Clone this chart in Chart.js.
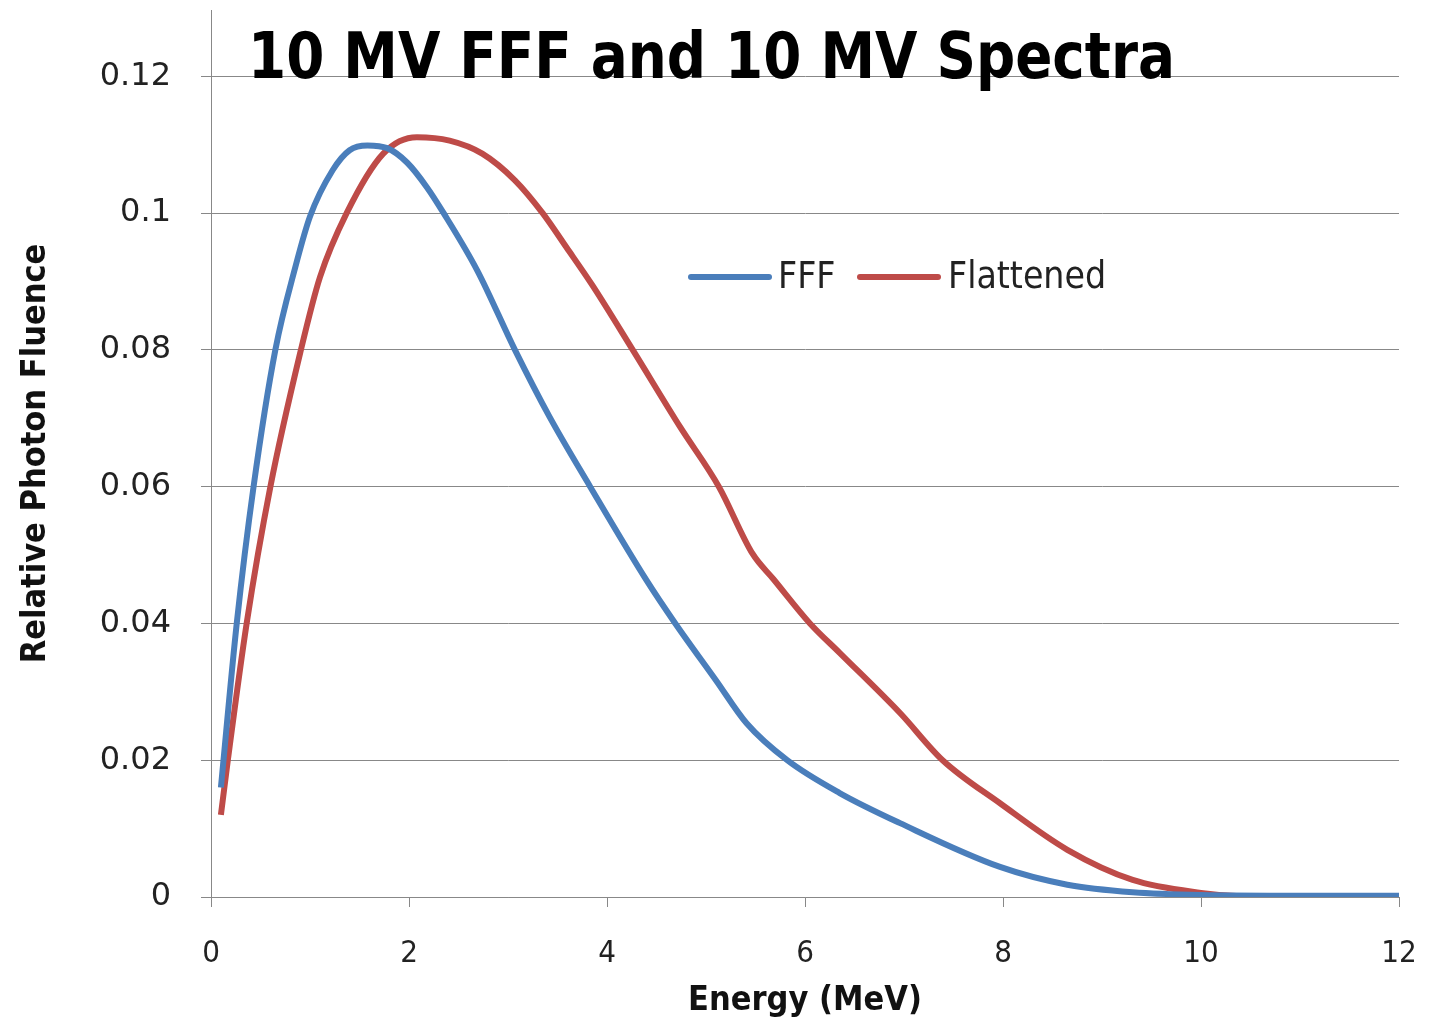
<!DOCTYPE html>
<html lang="en">
<head>
    <meta charset="UTF-8">
    <title>10 MV FFF and 10 MV Spectra</title>
    <script src="https://cdn.jsdelivr.net/npm/chart.js"></script>
    <style>
        html, body {
            margin: 0;
            padding: 0;
            background: #fff;
        }
        #wrap {
            position: relative;
            width: 1442px;
            height: 1023px;
        }
    </style>
</head>
<body>
    <div id="wrap">
        <canvas id="spectraChart" width="1442" height="1023"></canvas>
    </div>
    <script>
        const chartTitle = '10 MV FFF and 10 MV Spectra';
        const seriesNames = ['FFF', 'Flattened'];
        const seriesColors = ['#4a7ebb', '#be4b48'];

        // energy (MeV) / relative fluence
        const energyFFF = [0.1, 0.26, 0.43, 0.65, 0.85, 1.0, 1.23, 1.4, 1.58, 1.78, 1.98, 2.18, 2.35, 2.69, 3.07, 3.42, 3.83, 4.4, 4.69, 5.1, 5.41, 5.82, 6.35, 6.96, 7.97, 8.65, 9.31, 10.0, 11.0, 12.0];
        const fluenceFFF = [0.016, 0.04, 0.06, 0.08, 0.092, 0.0995, 0.1063, 0.1092, 0.1099, 0.1095, 0.1074, 0.1038, 0.1, 0.0916, 0.08, 0.0702, 0.06, 0.0463, 0.04, 0.0317, 0.0254, 0.02, 0.0152, 0.0108, 0.0044, 0.0018, 0.0007, 0.0003, 0.0002, 0.0002];

        const energyFlat = [0.1, 0.17, 0.36, 0.6, 0.9, 1.1, 1.37, 1.74, 2.08, 2.41, 2.74, 3.07, 3.35, 3.59, 3.85, 4.26, 4.74, 5.13, 5.47, 5.68, 6.05, 6.35, 6.96, 7.39, 7.97, 8.65, 9.31, 10.0, 10.4, 11.0, 12.0];
        const fluenceFlat = [0.012, 0.02, 0.04, 0.06, 0.0795, 0.0906, 0.1, 0.1087, 0.1111, 0.1106, 0.1087, 0.1048, 0.1, 0.095, 0.0895, 0.08, 0.0687, 0.06, 0.0502, 0.0465, 0.04, 0.0357, 0.0269, 0.02, 0.0137, 0.0069, 0.0025, 0.0006, 0.0001, 0, 0];

        const xTicks = [0, 2, 4, 6, 8, 10, 12];
        const yTicks = [0, 0.02, 0.04, 0.06, 0.08, 0.1, 0.12];

        function toPoints(xs, ys) {
            return xs.map((x, i) => ({ x: x, y: ys[i] }));
        }

        // title and legend sit inside the plot area, like the original
        const overlayText = {
            id: 'overlayText',
            afterDraw(chart) {
                const ctx = chart.ctx;
                ctx.save();
                ctx.fillStyle = '#000';
                ctx.textBaseline = 'alphabetic';
                ctx.font = 'bold 64px "DejaVu Sans Condensed", "DejaVu Sans", sans-serif';
                const w = ctx.measureText(chartTitle).width;
                ctx.translate(248, 78);
                ctx.scale(927 / w, 1);
                ctx.fillText(chartTitle, 0, 0);
                ctx.restore();

                ctx.save();
                ctx.font = '37px "DejaVu Sans Condensed", "DejaVu Sans", sans-serif';
                ctx.textBaseline = 'middle';
                ctx.lineCap = 'round';
                ctx.lineWidth = 6;
                const items = [{ x: 691, tx: 778 }, { x: 860, tx: 948 }];
                chart.data.datasets.forEach((ds, i) => {
                    ctx.strokeStyle = ds.borderColor;
                    ctx.beginPath();
                    ctx.moveTo(items[i].x, 277);
                    ctx.lineTo(items[i].x + 78, 277);
                    ctx.stroke();
                    ctx.fillStyle = '#222';
                    ctx.fillText(ds.label, items[i].tx, 278);
                });
                ctx.restore();
            }
        };

        new Chart(document.getElementById('spectraChart'), {
            type: 'line',
            data: {
                datasets: [
                    {
                        label: seriesNames[0],
                        data: toPoints(energyFFF, fluenceFFF),
                        borderColor: seriesColors[0],
                        borderWidth: 6,
                        pointRadius: 0,
                        cubicInterpolationMode: 'monotone',
                        fill: false
                    },
                    {
                        label: seriesNames[1],
                        data: toPoints(energyFlat, fluenceFlat),
                        borderColor: seriesColors[1],
                        borderWidth: 6,
                        pointRadius: 0,
                        cubicInterpolationMode: 'monotone',
                        fill: false
                    }
                ]
            },
            options: {
                responsive: false,
                animation: false,
                layout: {
                    padding: { top: 10, right: 43, left: 0, bottom: 0 }
                },
                plugins: {
                    legend: { display: false },
                    title: { display: false },
                    tooltip: { enabled: false }
                },
                scales: {
                    x: {
                        type: 'linear',
                        min: 0,
                        max: 12,
                        afterBuildTicks: (scale) => {
                            scale.ticks = xTicks.map(v => ({ value: v }));
                        },
                        afterFit: (scale) => {
                            scale.height = 126;
                            scale.paddingLeft = 0;
                            scale.paddingRight = 0;
                        },
                        grid: {
                            drawOnChartArea: false,
                            drawTicks: true,
                            tickLength: 10,
                            color: '#888'
                        },
                        border: { display: true, color: '#888', width: 1 },
                        ticks: {
                            padding: 28,
                            color: '#222',
                            font: { family: '"DejaVu Sans Condensed", "DejaVu Sans", sans-serif', size: 31 }
                        },
                        title: {
                            display: true,
                            text: 'Energy (MeV)',
                            color: '#111',
                            font: { family: '"DejaVu Sans Condensed", "DejaVu Sans", sans-serif', size: 34, weight: 'bold' },
                            padding: { top: 0, bottom: 1 }
                        }
                    },
                    y: {
                        min: 0,
                        max: 0.1297,
                        afterBuildTicks: (scale) => {
                            scale.ticks = yTicks.map(v => ({ value: v }));
                        },
                        afterFit: (scale) => {
                            scale.width = 211;
                            scale.paddingTop = 0;
                            scale.paddingBottom = 0;
                        },
                        grid: {
                            drawTicks: true,
                            tickLength: 10,
                            color: '#888',
                            lineWidth: 1
                        },
                        border: { display: true, color: '#888', width: 1 },
                        ticks: {
                            padding: 30,
                            color: '#222',
                            font: { family: '"DejaVu Sans", sans-serif', size: 32 },
                            callback: (v) => String(+v.toFixed(2))
                        },
                        title: {
                            display: true,
                            text: 'Relative Photon Fluence',
                            color: '#111',
                            font: { family: '"DejaVu Sans Condensed", "DejaVu Sans", sans-serif', size: 34, weight: 'bold' },
                            padding: { top: 16, bottom: 0 }
                        }
                    }
                }
            },
            plugins: [overlayText]
        });
    </script>
</body>
</html>
